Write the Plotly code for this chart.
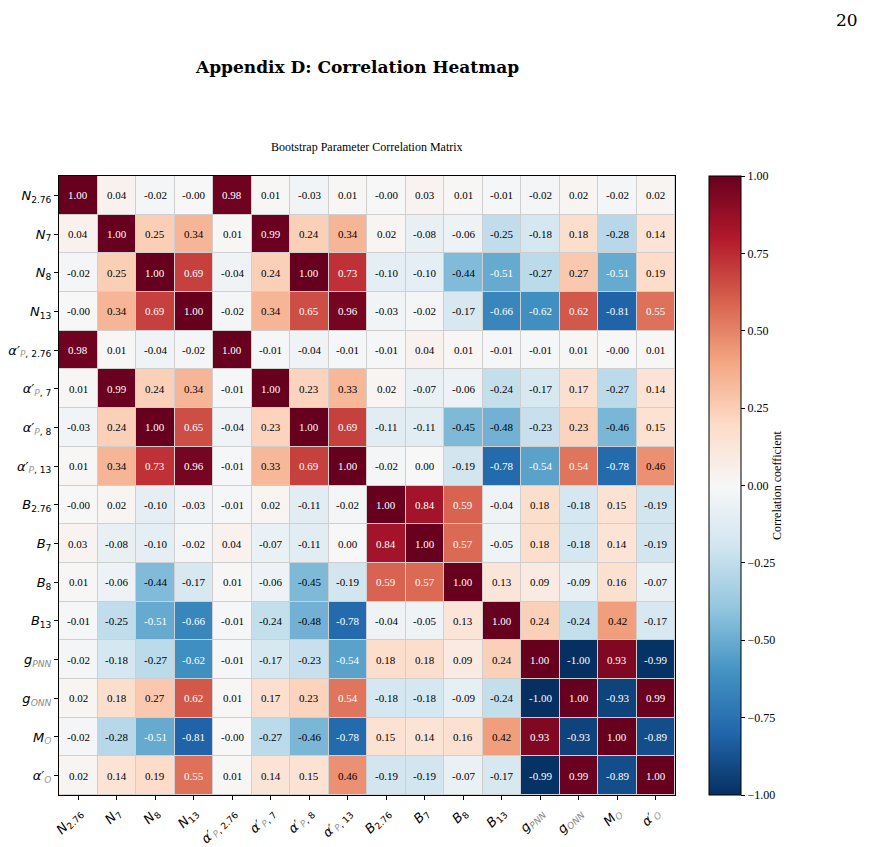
import plotly.graph_objects as go

labels = [
    "<i>N</i><sub>2.76</sub>",
    "<i>N</i><sub>7</sub>",
    "<i>N</i><sub>8</sub>",
    "<i>N</i><sub>13</sub>",
    "<i>α′</i><sub><span style='color:#9a9a9a'><i>P</i></span>, 2.76</sub>",
    "<i>α′</i><sub><span style='color:#9a9a9a'><i>P</i></span>, 7</sub>",
    "<i>α′</i><sub><span style='color:#9a9a9a'><i>P</i></span>, 8</sub>",
    "<i>α′</i><sub><span style='color:#9a9a9a'><i>P</i></span>, 13</sub>",
    "<i>B</i><sub>2.76</sub>",
    "<i>B</i><sub>7</sub>",
    "<i>B</i><sub>8</sub>",
    "<i>B</i><sub>13</sub>",
    "<i>g</i><sub><span style='color:#8a8a8a'><i>PNN</i></span></sub>",
    "<i>g</i><sub><span style='color:#8a8a8a'><i>ONN</i></span></sub>",
    "<i>M</i><sub><span style='color:#9a9a9a'><i>O</i></span></sub>",
    "<i>α′</i><sub><span style='color:#9a9a9a'><i>O</i></span></sub>",
]

row_N276 = [1.00, 0.04, -0.02, -0.0, 0.98, 0.01, -0.03, 0.01, -0.0, 0.03, 0.01, -0.01, -0.02, 0.02, -0.02, 0.02]
row_N7 = [0.04, 1.00, 0.25, 0.34, 0.01, 0.99, 0.24, 0.34, 0.02, -0.08, -0.06, -0.25, -0.18, 0.18, -0.28, 0.14]
row_N8 = [-0.02, 0.25, 1.00, 0.69, -0.04, 0.24, 1.00, 0.73, -0.10, -0.10, -0.44, -0.51, -0.27, 0.27, -0.51, 0.19]
row_N13 = [-0.0, 0.34, 0.69, 1.00, -0.02, 0.34, 0.65, 0.96, -0.03, -0.02, -0.17, -0.66, -0.62, 0.62, -0.81, 0.55]
row_aP276 = [0.98, 0.01, -0.04, -0.02, 1.00, -0.01, -0.04, -0.01, -0.01, 0.04, 0.01, -0.01, -0.01, 0.01, -0.0, 0.01]
row_aP7 = [0.01, 0.99, 0.24, 0.34, -0.01, 1.00, 0.23, 0.33, 0.02, -0.07, -0.06, -0.24, -0.17, 0.17, -0.27, 0.14]
row_aP8 = [-0.03, 0.24, 1.00, 0.65, -0.04, 0.23, 1.00, 0.69, -0.11, -0.11, -0.45, -0.48, -0.23, 0.23, -0.46, 0.15]
row_aP13 = [0.01, 0.34, 0.73, 0.96, -0.01, 0.33, 0.69, 1.00, -0.02, 0.00, -0.19, -0.78, -0.54, 0.54, -0.78, 0.46]
row_B276 = [-0.0, 0.02, -0.10, -0.03, -0.01, 0.02, -0.11, -0.02, 1.00, 0.84, 0.59, -0.04, 0.18, -0.18, 0.15, -0.19]
row_B7 = [0.03, -0.08, -0.10, -0.02, 0.04, -0.07, -0.11, 0.00, 0.84, 1.00, 0.57, -0.05, 0.18, -0.18, 0.14, -0.19]
row_B8 = [0.01, -0.06, -0.44, -0.17, 0.01, -0.06, -0.45, -0.19, 0.59, 0.57, 1.00, 0.13, 0.09, -0.09, 0.16, -0.07]
row_B13 = [-0.01, -0.25, -0.51, -0.66, -0.01, -0.24, -0.48, -0.78, -0.04, -0.05, 0.13, 1.00, 0.24, -0.24, 0.42, -0.17]
row_gPNN = [-0.02, -0.18, -0.27, -0.62, -0.01, -0.17, -0.23, -0.54, 0.18, 0.18, 0.09, 0.24, 1.00, -1.00, 0.93, -0.99]
row_gONN = [0.02, 0.18, 0.27, 0.62, 0.01, 0.17, 0.23, 0.54, -0.18, -0.18, -0.09, -0.24, -1.00, 1.00, -0.93, 0.99]
row_MO = [-0.02, -0.28, -0.51, -0.81, -0.0, -0.27, -0.46, -0.78, 0.15, 0.14, 0.16, 0.42, 0.93, -0.93, 1.00, -0.89]
row_aO = [0.02, 0.14, 0.19, 0.55, 0.01, 0.14, 0.15, 0.46, -0.19, -0.19, -0.07, -0.17, -0.99, 0.99, -0.89, 1.00]

matrix = [row_N276, row_N7, row_N8, row_N13, row_aP276, row_aP7, row_aP8, row_aP13,
          row_B276, row_B7, row_B8, row_B13, row_gPNN, row_gONN, row_MO, row_aO]

cbar_ticks = [-1.0, -0.75, -0.5, -0.25, 0.0, 0.25, 0.5, 0.75, 1.0]

rdbu_r = [
    [0.0, "#053061"], [0.1, "#2166ac"], [0.2, "#4393c3"], [0.3, "#92c5de"],
    [0.4, "#d1e5f0"], [0.5, "#f7f7f7"], [0.6, "#fddbc7"], [0.7, "#f4a582"],
    [0.8, "#d6604d"], [0.9, "#b2182b"], [1.0, "#67001f"],
]

n = len(labels)
idx = list(range(n))

fig = go.Figure()
fig.add_trace(go.Heatmap(
    z=matrix, x=idx, y=idx, zmin=-1, zmax=1, colorscale=rdbu_r,
    xgap=1, ygap=1, hoverinfo="z",
    colorbar=dict(
        x=1.055, xanchor="left", xpad=0, y=0.5, yanchor="middle",
        len=1.0, lenmode="fraction", thickness=32, ypad=0,
        outlinecolor="black", outlinewidth=1,
        tickvals=cbar_ticks,
        ticktext=[f"{v:.2f}".replace("-", "−") for v in cbar_ticks],
        ticks="outside", ticklen=4, tickcolor="black",
        tickfont=dict(family="Liberation Serif", size=12, color="black"),
        title=dict(text="Correlation coefficient", side="right",
                   font=dict(family="Liberation Serif", size=12, color="black")),
    ),
))

annotations = []
for i, row in enumerate(matrix):
    for j, v in enumerate(row):
        annotations.append(dict(
            x=j, y=i, xref="x", yref="y", text=f"{v:.2f}", showarrow=False,
            font=dict(family="Liberation Serif", size=11,
                      color="white" if abs(v) > 0.5 else "black"),
        ))

annotations += [
    dict(text="<b>Appendix D: Correlation Heatmap</b>", xref="paper", yref="paper",
         x=0.484, y=1.176, showarrow=False, xanchor="center", yanchor="middle",
         font=dict(family="DejaVu Serif", size=17, color="black")),
    dict(text="Bootstrap Parameter Correlation Matrix", xref="paper", yref="paper",
         x=0.5, y=1.047, showarrow=False, xanchor="center", yanchor="middle",
         font=dict(family="Liberation Serif", size=12, color="black")),
    dict(text="20", xref="paper", yref="paper",
         x=1.3, y=1.252, showarrow=False, xanchor="right", yanchor="middle",
         font=dict(family="DejaVu Serif", size=17, color="black")),
]

axis_common = dict(
    tickvals=idx, ticktext=labels, ticks="outside", ticklen=4, tickcolor="black",
    showline=True, linecolor="black", linewidth=1, mirror=True,
    showgrid=False, zeroline=False, automargin=False,
    tickfont=dict(family="DejaVu Sans", size=13, color="black"),
)

fig.update_layout(
    width=870, height=847,
    margin=dict(l=59, r=195, t=176, b=52),
    paper_bgcolor="white", plot_bgcolor="#cfcfcf",
    annotations=annotations,
    xaxis=dict(range=[-0.5, n - 0.5], tickangle=-45, **axis_common),
    yaxis=dict(range=[n - 0.5, -0.5], **axis_common),
)

fig.write_html("out.html")
